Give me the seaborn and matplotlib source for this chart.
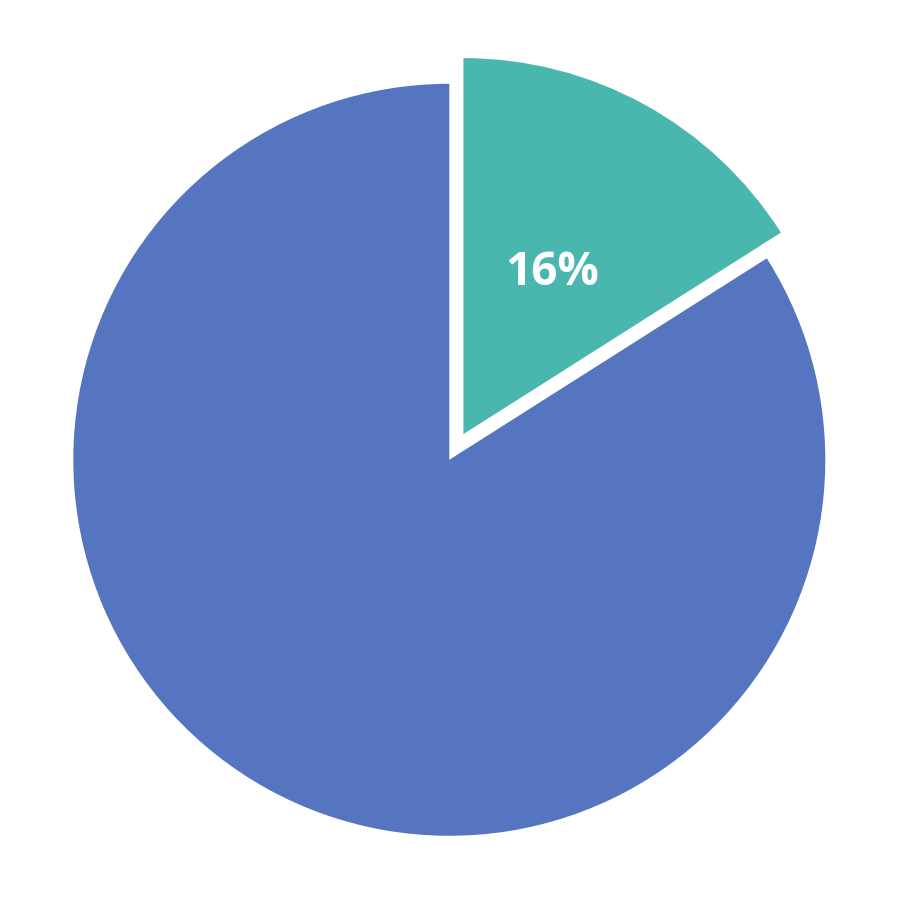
import matplotlib
matplotlib.use("Agg")
import matplotlib.pyplot as plt
import seaborn as sns

sns.set_theme(style="white")
plt.rcParams['font.family'] = ['Open Sans', 'DejaVu Sans']

categories = ["Segment A", "Segment B"]
values = [16, 84]
colors = ["#4AB7AE", "#5575C1"]
explode = [0.078, 0.0]

fig = plt.figure(figsize=(8.97, 8.97), dpi=100)
ax = fig.add_axes([0, 0, 1, 1])

wedges, texts, autotexts = ax.pie(
    values,
    labels=None,
    colors=colors,
    explode=explode,
    startangle=90,
    counterclock=False,
    radius=1.0,
    pctdistance=0.49,
    autopct=lambda p: f"{p:.0f}%" if p < 50 else "",
    wedgeprops=dict(linewidth=0),
    textprops=dict(color="white", fontsize=33, fontweight="bold"),
)

scale = 376.0
ax.set_xlim(-449.3 / scale, -449.3 / scale + 897 / scale)
ax.set_ylim(-437.2 / scale, -437.2 / scale + 897 / scale)
ax.set_aspect("equal")
ax.axis("off")

fig.savefig("out.png", dpi=100)
